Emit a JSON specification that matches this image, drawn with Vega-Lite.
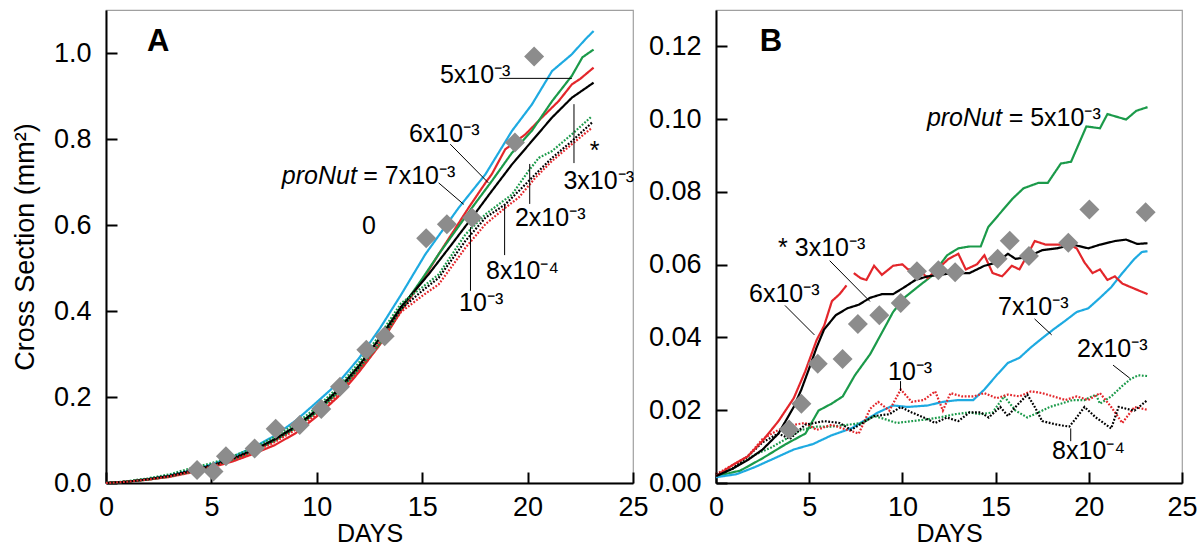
{
"$schema":"https://vega.github.io/schema/vega-lite/v6.json",
"autosize":{"type":"pad"},
"padding":{"left":10,"top":9,"right":7,"bottom":6},
"background":"white",
"config":{
 "font":"Liberation Sans",
 "view":{"stroke":"#a0a0a0","strokeWidth":1.2},
 "axis":{"domainColor":"#000","domainWidth":2,"tickColor":"#000","tickWidth":2,"tickSize":-11,"labelFontSize":27,"labelColor":"#000","labelFont":"Liberation Sans","titleFont":"Liberation Sans","titleFontSize":27,"titleFontWeight":"normal","titleColor":"#000","grid":false,"labelFlush":false,"labelOverlap":false,"labelBound":false},
 "axisX":{"labelPadding":22,"titlePadding":1,"titleFontSize":25},
 "axisY":{"labelPadding":26,"titlePadding":14},
 "text":{"font":"Liberation Sans"}
},
"datasets":{
 "a_lines":[
  {"s":"7e-3","k":"cyan","st":"solid","d":0,"v":0},{"s":"7e-3","k":"cyan","st":"solid","d":1,"v":0.003},{"s":"7e-3","k":"cyan","st":"solid","d":2,"v":0.009},{"s":"7e-3","k":"cyan","st":"solid","d":3,"v":0.017},{"s":"7e-3","k":"cyan","st":"solid","d":4,"v":0.029},{"s":"7e-3","k":"cyan","st":"solid","d":5,"v":0.043},{"s":"7e-3","k":"cyan","st":"solid","d":6,"v":0.061},{"s":"7e-3","k":"cyan","st":"solid","d":7,"v":0.083},{"s":"7e-3","k":"cyan","st":"solid","d":8,"v":0.11},{"s":"7e-3","k":"cyan","st":"solid","d":9,"v":0.145},{"s":"7e-3","k":"cyan","st":"solid","d":10,"v":0.188},{"s":"7e-3","k":"cyan","st":"solid","d":11,"v":0.232},{"s":"7e-3","k":"cyan","st":"solid","d":12,"v":0.29},{"s":"7e-3","k":"cyan","st":"solid","d":13,"v":0.36},{"s":"7e-3","k":"cyan","st":"solid","d":14,"v":0.438},{"s":"7e-3","k":"cyan","st":"solid","d":15.15,"v":0.532},{"s":"7e-3","k":"cyan","st":"solid","d":16.73,"v":0.64},{"s":"7e-3","k":"cyan","st":"solid","d":18,"v":0.718},{"s":"7e-3","k":"cyan","st":"solid","d":19.26,"v":0.819},{"s":"7e-3","k":"cyan","st":"solid","d":20.2,"v":0.88},{"s":"7e-3","k":"cyan","st":"solid","d":21.16,"v":0.958},{"s":"7e-3","k":"cyan","st":"solid","d":22.1,"v":0.997},{"s":"7e-3","k":"cyan","st":"solid","d":22.74,"v":1.032},{"s":"7e-3","k":"cyan","st":"solid","d":23.13,"v":1.051},
  {"s":"6e-3","k":"red","st":"solid","d":0,"v":0},{"s":"6e-3","k":"red","st":"solid","d":1,"v":0.003},{"s":"6e-3","k":"red","st":"solid","d":2,"v":0.008},{"s":"6e-3","k":"red","st":"solid","d":3,"v":0.014},{"s":"6e-3","k":"red","st":"solid","d":4,"v":0.024},{"s":"6e-3","k":"red","st":"solid","d":5,"v":0.036},{"s":"6e-3","k":"red","st":"solid","d":6,"v":0.05},{"s":"6e-3","k":"red","st":"solid","d":7,"v":0.068},{"s":"6e-3","k":"red","st":"solid","d":8,"v":0.088},{"s":"6e-3","k":"red","st":"solid","d":9,"v":0.116},{"s":"6e-3","k":"red","st":"solid","d":10,"v":0.155},{"s":"6e-3","k":"red","st":"solid","d":11,"v":0.2},{"s":"6e-3","k":"red","st":"solid","d":12,"v":0.258},{"s":"6e-3","k":"red","st":"solid","d":13,"v":0.322},{"s":"6e-3","k":"red","st":"solid","d":14,"v":0.4},{"s":"6e-3","k":"red","st":"solid","d":15,"v":0.47},{"s":"6e-3","k":"red","st":"solid","d":15.78,"v":0.532},{"s":"6e-3","k":"red","st":"solid","d":17.2,"v":0.64},{"s":"6e-3","k":"red","st":"solid","d":18,"v":0.698},{"s":"6e-3","k":"red","st":"solid","d":18.3,"v":0.718},{"s":"6e-3","k":"red","st":"solid","d":18.94,"v":0.776},{"s":"6e-3","k":"red","st":"solid","d":19.9,"v":0.811},{"s":"6e-3","k":"red","st":"solid","d":20.68,"v":0.85},{"s":"6e-3","k":"red","st":"solid","d":21.47,"v":0.888},{"s":"6e-3","k":"red","st":"solid","d":22.1,"v":0.927},{"s":"6e-3","k":"red","st":"solid","d":22.5,"v":0.94},{"s":"6e-3","k":"red","st":"solid","d":23.13,"v":0.966},
  {"s":"5e-3","k":"green","st":"solid","d":0,"v":0},{"s":"5e-3","k":"green","st":"solid","d":1,"v":0.003},{"s":"5e-3","k":"green","st":"solid","d":2,"v":0.008},{"s":"5e-3","k":"green","st":"solid","d":3,"v":0.015},{"s":"5e-3","k":"green","st":"solid","d":4,"v":0.026},{"s":"5e-3","k":"green","st":"solid","d":5,"v":0.039},{"s":"5e-3","k":"green","st":"solid","d":6,"v":0.054},{"s":"5e-3","k":"green","st":"solid","d":7,"v":0.074},{"s":"5e-3","k":"green","st":"solid","d":8,"v":0.098},{"s":"5e-3","k":"green","st":"solid","d":9,"v":0.128},{"s":"5e-3","k":"green","st":"solid","d":10,"v":0.165},{"s":"5e-3","k":"green","st":"solid","d":11,"v":0.21},{"s":"5e-3","k":"green","st":"solid","d":12,"v":0.265},{"s":"5e-3","k":"green","st":"solid","d":13,"v":0.325},{"s":"5e-3","k":"green","st":"solid","d":14,"v":0.405},{"s":"5e-3","k":"green","st":"solid","d":15,"v":0.475},{"s":"5e-3","k":"green","st":"solid","d":15.78,"v":0.532},{"s":"5e-3","k":"green","st":"solid","d":17.36,"v":0.64},{"s":"5e-3","k":"green","st":"solid","d":18.3,"v":0.702},{"s":"5e-3","k":"green","st":"solid","d":19.26,"v":0.768},{"s":"5e-3","k":"green","st":"solid","d":20.2,"v":0.819},{"s":"5e-3","k":"green","st":"solid","d":21.16,"v":0.888},{"s":"5e-3","k":"green","st":"solid","d":22.1,"v":0.947},{"s":"5e-3","k":"green","st":"solid","d":22.6,"v":0.99},{"s":"5e-3","k":"green","st":"solid","d":23.13,"v":1.008},
  {"s":"3e-3","k":"black","st":"solid","d":0,"v":0},{"s":"3e-3","k":"black","st":"solid","d":1,"v":0.003},{"s":"3e-3","k":"black","st":"solid","d":2,"v":0.009},{"s":"3e-3","k":"black","st":"solid","d":3,"v":0.016},{"s":"3e-3","k":"black","st":"solid","d":4,"v":0.027},{"s":"3e-3","k":"black","st":"solid","d":5,"v":0.04},{"s":"3e-3","k":"black","st":"solid","d":6,"v":0.056},{"s":"3e-3","k":"black","st":"solid","d":7,"v":0.077},{"s":"3e-3","k":"black","st":"solid","d":8,"v":0.102},{"s":"3e-3","k":"black","st":"solid","d":9,"v":0.132},{"s":"3e-3","k":"black","st":"solid","d":10,"v":0.17},{"s":"3e-3","k":"black","st":"solid","d":11,"v":0.217},{"s":"3e-3","k":"black","st":"solid","d":12,"v":0.273},{"s":"3e-3","k":"black","st":"solid","d":13,"v":0.338},{"s":"3e-3","k":"black","st":"solid","d":14,"v":0.41},{"s":"3e-3","k":"black","st":"solid","d":15.3,"v":0.485},{"s":"3e-3","k":"black","st":"solid","d":16.4,"v":0.555},{"s":"3e-3","k":"black","st":"solid","d":17.36,"v":0.617},{"s":"3e-3","k":"black","st":"solid","d":18.3,"v":0.679},{"s":"3e-3","k":"black","st":"solid","d":19.26,"v":0.741},{"s":"3e-3","k":"black","st":"solid","d":20.2,"v":0.795},{"s":"3e-3","k":"black","st":"solid","d":21.16,"v":0.85},{"s":"3e-3","k":"black","st":"solid","d":22.1,"v":0.896},{"s":"3e-3","k":"black","st":"solid","d":23.13,"v":0.931},
  {"s":"2e-3","k":"green","st":"dotted","d":0,"v":0},{"s":"2e-3","k":"green","st":"dotted","d":1,"v":0.004},{"s":"2e-3","k":"green","st":"dotted","d":2,"v":0.011},{"s":"2e-3","k":"green","st":"dotted","d":3,"v":0.02},{"s":"2e-3","k":"green","st":"dotted","d":4,"v":0.034},{"s":"2e-3","k":"green","st":"dotted","d":5,"v":0.046},{"s":"2e-3","k":"green","st":"dotted","d":6,"v":0.062},{"s":"2e-3","k":"green","st":"dotted","d":7,"v":0.082},{"s":"2e-3","k":"green","st":"dotted","d":8,"v":0.107},{"s":"2e-3","k":"green","st":"dotted","d":9,"v":0.138},{"s":"2e-3","k":"green","st":"dotted","d":10,"v":0.176},{"s":"2e-3","k":"green","st":"dotted","d":11,"v":0.222},{"s":"2e-3","k":"green","st":"dotted","d":12,"v":0.28},{"s":"2e-3","k":"green","st":"dotted","d":13,"v":0.345},{"s":"2e-3","k":"green","st":"dotted","d":14,"v":0.418},{"s":"2e-3","k":"green","st":"dotted","d":15,"v":0.455},{"s":"2e-3","k":"green","st":"dotted","d":15.78,"v":0.485},{"s":"2e-3","k":"green","st":"dotted","d":17.05,"v":0.578},{"s":"2e-3","k":"green","st":"dotted","d":18,"v":0.625},{"s":"2e-3","k":"green","st":"dotted","d":18.63,"v":0.648},{"s":"2e-3","k":"green","st":"dotted","d":19.26,"v":0.671},{"s":"2e-3","k":"green","st":"dotted","d":20.05,"v":0.726},{"s":"2e-3","k":"green","st":"dotted","d":20.53,"v":0.756},{"s":"2e-3","k":"green","st":"dotted","d":21.16,"v":0.772},{"s":"2e-3","k":"green","st":"dotted","d":22.1,"v":0.811},{"s":"2e-3","k":"green","st":"dotted","d":23.05,"v":0.853},
  {"s":"8e-4","k":"black","st":"dotted","d":0,"v":0},{"s":"8e-4","k":"black","st":"dotted","d":1,"v":0.003},{"s":"8e-4","k":"black","st":"dotted","d":2,"v":0.009},{"s":"8e-4","k":"black","st":"dotted","d":3,"v":0.017},{"s":"8e-4","k":"black","st":"dotted","d":4,"v":0.029},{"s":"8e-4","k":"black","st":"dotted","d":5,"v":0.041},{"s":"8e-4","k":"black","st":"dotted","d":6,"v":0.057},{"s":"8e-4","k":"black","st":"dotted","d":7,"v":0.077},{"s":"8e-4","k":"black","st":"dotted","d":8,"v":0.1},{"s":"8e-4","k":"black","st":"dotted","d":9,"v":0.13},{"s":"8e-4","k":"black","st":"dotted","d":10,"v":0.168},{"s":"8e-4","k":"black","st":"dotted","d":11,"v":0.214},{"s":"8e-4","k":"black","st":"dotted","d":12,"v":0.27},{"s":"8e-4","k":"black","st":"dotted","d":13,"v":0.335},{"s":"8e-4","k":"black","st":"dotted","d":14,"v":0.405},{"s":"8e-4","k":"black","st":"dotted","d":15,"v":0.447},{"s":"8e-4","k":"black","st":"dotted","d":15.78,"v":0.477},{"s":"8e-4","k":"black","st":"dotted","d":17.05,"v":0.563},{"s":"8e-4","k":"black","st":"dotted","d":18,"v":0.617},{"s":"8e-4","k":"black","st":"dotted","d":18.94,"v":0.648},{"s":"8e-4","k":"black","st":"dotted","d":19.58,"v":0.679},{"s":"8e-4","k":"black","st":"dotted","d":20.37,"v":0.718},{"s":"8e-4","k":"black","st":"dotted","d":21.16,"v":0.756},{"s":"8e-4","k":"black","st":"dotted","d":22.1,"v":0.795},{"s":"8e-4","k":"black","st":"dotted","d":23.05,"v":0.838},
  {"s":"1e-3","k":"red","st":"dotted","d":0,"v":0},{"s":"1e-3","k":"red","st":"dotted","d":1,"v":0.003},{"s":"1e-3","k":"red","st":"dotted","d":2,"v":0.008},{"s":"1e-3","k":"red","st":"dotted","d":3,"v":0.015},{"s":"1e-3","k":"red","st":"dotted","d":4,"v":0.026},{"s":"1e-3","k":"red","st":"dotted","d":5,"v":0.038},{"s":"1e-3","k":"red","st":"dotted","d":6,"v":0.053},{"s":"1e-3","k":"red","st":"dotted","d":7,"v":0.072},{"s":"1e-3","k":"red","st":"dotted","d":8,"v":0.095},{"s":"1e-3","k":"red","st":"dotted","d":9,"v":0.124},{"s":"1e-3","k":"red","st":"dotted","d":10,"v":0.16},{"s":"1e-3","k":"red","st":"dotted","d":11,"v":0.205},{"s":"1e-3","k":"red","st":"dotted","d":12,"v":0.262},{"s":"1e-3","k":"red","st":"dotted","d":13,"v":0.328},{"s":"1e-3","k":"red","st":"dotted","d":14,"v":0.398},{"s":"1e-3","k":"red","st":"dotted","d":15,"v":0.435},{"s":"1e-3","k":"red","st":"dotted","d":15.78,"v":0.462},{"s":"1e-3","k":"red","st":"dotted","d":17.05,"v":0.547},{"s":"1e-3","k":"red","st":"dotted","d":18,"v":0.602},{"s":"1e-3","k":"red","st":"dotted","d":18.94,"v":0.64},{"s":"1e-3","k":"red","st":"dotted","d":19.58,"v":0.664},{"s":"1e-3","k":"red","st":"dotted","d":20.37,"v":0.71},{"s":"1e-3","k":"red","st":"dotted","d":21.16,"v":0.749},{"s":"1e-3","k":"red","st":"dotted","d":22.1,"v":0.788},{"s":"1e-3","k":"red","st":"dotted","d":23.05,"v":0.826}
 ],
 "a_pts":[
  {"d":4.32,"v":0.03},{"d":5.1,"v":0.027},{"d":5.69,"v":0.062},{"d":7.05,"v":0.08},{"d":8.05,"v":0.126},{"d":9.19,"v":0.135},{"d":10.21,"v":0.172},{"d":11.1,"v":0.224},{"d":12.35,"v":0.31},{"d":13.22,"v":0.341},{"d":15.19,"v":0.569},{"d":16.17,"v":0.602},{"d":17.37,"v":0.617},{"d":19.4,"v":0.792},{"d":20.31,"v":0.992}
 ],
 "a_lead":[
  {"d":18.66,"v":0.941,"d2":22.1,"v2":0.941},
  {"d":22.2,"v":0.881,"d2":22.2,"v2":0.744},
  {"d":16.33,"v":0.788,"d2":18.14,"v2":0.698},
  {"d":15.78,"v":0.698,"d2":16.97,"v2":0.648},
  {"d":20.1,"v":0.742,"d2":20.1,"v2":0.649},
  {"d":18.91,"v":0.649,"d2":18.91,"v2":0.53},
  {"d":17.29,"v":0.595,"d2":17.29,"v2":0.447}
 ],
 "a_txt":[
  {"d":15.84,"v":0.949,"t":"5x10⁻³"},
  {"d":14.37,"v":0.812,"t":"6x10⁻³"},
  {"d":12.2,"v":0.714,"t":"= 7x10⁻³"},
  {"d":12.14,"v":0.598,"t":"0"},
  {"d":21.7,"v":0.702,"t":"3x10⁻³"},
  {"d":22.95,"v":0.772,"t":"*"},
  {"d":19.4,"v":0.616,"t":"2x10⁻³"},
  {"d":18.03,"v":0.493,"t":"8x10⁻⁴"},
  {"d":16.75,"v":0.419,"t":"10⁻³"}
 ],
 "a_ital":[{"d":11.9,"v":0.714,"t":"proNut"}],
 "a_lab":[{"d":2.47,"v":1.026,"t":"A"}],
 "b_lines":[
  {"s":"5e-3","k":"green","st":"solid","d":0,"v":0.0019},{"s":"5e-3","k":"green","st":"solid","d":1.3,"v":0.0034},{"s":"5e-3","k":"green","st":"solid","d":2.5,"v":0.0068},{"s":"5e-3","k":"green","st":"solid","d":3.75,"v":0.0107},{"s":"5e-3","k":"green","st":"solid","d":4.8,"v":0.0136},{"s":"5e-3","k":"green","st":"solid","d":5.5,"v":0.0199},{"s":"5e-3","k":"green","st":"solid","d":6.2,"v":0.0218},{"s":"5e-3","k":"green","st":"solid","d":6.8,"v":0.0238},{"s":"5e-3","k":"green","st":"solid","d":7.45,"v":0.0296},{"s":"5e-3","k":"green","st":"solid","d":8.27,"v":0.0354},{"s":"5e-3","k":"green","st":"solid","d":9.1,"v":0.0432},{"s":"5e-3","k":"green","st":"solid","d":9.5,"v":0.047},{"s":"5e-3","k":"green","st":"solid","d":10.1,"v":0.0509},{"s":"5e-3","k":"green","st":"solid","d":10.8,"v":0.0538},{"s":"5e-3","k":"green","st":"solid","d":11.55,"v":0.0568},{"s":"5e-3","k":"green","st":"solid","d":12.4,"v":0.0626},{"s":"5e-3","k":"green","st":"solid","d":13,"v":0.0645},{"s":"5e-3","k":"green","st":"solid","d":13.6,"v":0.065},{"s":"5e-3","k":"green","st":"solid","d":14.2,"v":0.065},{"s":"5e-3","k":"green","st":"solid","d":14.6,"v":0.0703},{"s":"5e-3","k":"green","st":"solid","d":15.25,"v":0.0742},{"s":"5e-3","k":"green","st":"solid","d":15.9,"v":0.0781},{"s":"5e-3","k":"green","st":"solid","d":16.5,"v":0.081},{"s":"5e-3","k":"green","st":"solid","d":17.3,"v":0.0825},{"s":"5e-3","k":"green","st":"solid","d":17.8,"v":0.0825},{"s":"5e-3","k":"green","st":"solid","d":18.5,"v":0.0878},{"s":"5e-3","k":"green","st":"solid","d":19.05,"v":0.0883},{"s":"5e-3","k":"green","st":"solid","d":19.87,"v":0.098},{"s":"5e-3","k":"green","st":"solid","d":20.6,"v":0.0975},{"s":"5e-3","k":"green","st":"solid","d":21,"v":0.1014},{"s":"5e-3","k":"green","st":"solid","d":22,"v":0.0999},{"s":"5e-3","k":"green","st":"solid","d":22.55,"v":0.1023},{"s":"5e-3","k":"green","st":"solid","d":23.15,"v":0.1033},
  {"s":"7e-3","k":"cyan","st":"solid","d":0,"v":0.0016},{"s":"7e-3","k":"cyan","st":"solid","d":1.09,"v":0.0024},{"s":"7e-3","k":"cyan","st":"solid","d":2.1,"v":0.0044},{"s":"7e-3","k":"cyan","st":"solid","d":3.14,"v":0.0068},{"s":"7e-3","k":"cyan","st":"solid","d":4.17,"v":0.0092},{"s":"7e-3","k":"cyan","st":"solid","d":5.2,"v":0.0107},{"s":"7e-3","k":"cyan","st":"solid","d":6.2,"v":0.0131},{"s":"7e-3","k":"cyan","st":"solid","d":7.25,"v":0.015},{"s":"7e-3","k":"cyan","st":"solid","d":8.07,"v":0.0175},{"s":"7e-3","k":"cyan","st":"solid","d":8.7,"v":0.0194},{"s":"7e-3","k":"cyan","st":"solid","d":9.5,"v":0.0213},{"s":"7e-3","k":"cyan","st":"solid","d":10.3,"v":0.0209},{"s":"7e-3","k":"cyan","st":"solid","d":11.35,"v":0.0213},{"s":"7e-3","k":"cyan","st":"solid","d":12.17,"v":0.0223},{"s":"7e-3","k":"cyan","st":"solid","d":13,"v":0.0228},{"s":"7e-3","k":"cyan","st":"solid","d":13.8,"v":0.0228},{"s":"7e-3","k":"cyan","st":"solid","d":14.4,"v":0.0257},{"s":"7e-3","k":"cyan","st":"solid","d":15.05,"v":0.0296},{"s":"7e-3","k":"cyan","st":"solid","d":15.66,"v":0.033},{"s":"7e-3","k":"cyan","st":"solid","d":16.28,"v":0.0344},{"s":"7e-3","k":"cyan","st":"solid","d":16.9,"v":0.0373},{"s":"7e-3","k":"cyan","st":"solid","d":17.5,"v":0.0398},{"s":"7e-3","k":"cyan","st":"solid","d":18.1,"v":0.0422},{"s":"7e-3","k":"cyan","st":"solid","d":18.74,"v":0.0446},{"s":"7e-3","k":"cyan","st":"solid","d":19.35,"v":0.047},{"s":"7e-3","k":"cyan","st":"solid","d":19.97,"v":0.048},{"s":"7e-3","k":"cyan","st":"solid","d":20.6,"v":0.0509},{"s":"7e-3","k":"cyan","st":"solid","d":21.2,"v":0.0538},{"s":"7e-3","k":"cyan","st":"solid","d":21.8,"v":0.0577},{"s":"7e-3","k":"cyan","st":"solid","d":22.45,"v":0.0616},{"s":"7e-3","k":"cyan","st":"solid","d":22.85,"v":0.0635},{"s":"7e-3","k":"cyan","st":"solid","d":23.15,"v":0.0637},
  {"s":"2e-3","k":"green","st":"dotted","d":0,"v":0.0019},{"s":"2e-3","k":"green","st":"dotted","d":0.88,"v":0.0039},{"s":"2e-3","k":"green","st":"dotted","d":2.1,"v":0.0078},{"s":"2e-3","k":"green","st":"dotted","d":2.94,"v":0.0097},{"s":"2e-3","k":"green","st":"dotted","d":3.75,"v":0.0121},{"s":"2e-3","k":"green","st":"dotted","d":4.58,"v":0.0146},{"s":"2e-3","k":"green","st":"dotted","d":5.4,"v":0.0155},{"s":"2e-3","k":"green","st":"dotted","d":6.2,"v":0.0155},{"s":"2e-3","k":"green","st":"dotted","d":7.04,"v":0.016},{"s":"2e-3","k":"green","st":"dotted","d":7.86,"v":0.0165},{"s":"2e-3","k":"green","st":"dotted","d":8.48,"v":0.0184},{"s":"2e-3","k":"green","st":"dotted","d":9.1,"v":0.0175},{"s":"2e-3","k":"green","st":"dotted","d":9.7,"v":0.0165},{"s":"2e-3","k":"green","st":"dotted","d":10.5,"v":0.017},{"s":"2e-3","k":"green","st":"dotted","d":11.35,"v":0.0175},{"s":"2e-3","k":"green","st":"dotted","d":11.97,"v":0.018},{"s":"2e-3","k":"green","st":"dotted","d":12.8,"v":0.0189},{"s":"2e-3","k":"green","st":"dotted","d":13.6,"v":0.0194},{"s":"2e-3","k":"green","st":"dotted","d":14.2,"v":0.0189},{"s":"2e-3","k":"green","st":"dotted","d":14.84,"v":0.0194},{"s":"2e-3","k":"green","st":"dotted","d":15.46,"v":0.0238},{"s":"2e-3","k":"green","st":"dotted","d":16.07,"v":0.0199},{"s":"2e-3","k":"green","st":"dotted","d":16.7,"v":0.018},{"s":"2e-3","k":"green","st":"dotted","d":17.3,"v":0.0194},{"s":"2e-3","k":"green","st":"dotted","d":17.9,"v":0.0209},{"s":"2e-3","k":"green","st":"dotted","d":18.5,"v":0.0218},{"s":"2e-3","k":"green","st":"dotted","d":19.15,"v":0.0228},{"s":"2e-3","k":"green","st":"dotted","d":19.77,"v":0.0228},{"s":"2e-3","k":"green","st":"dotted","d":20.38,"v":0.0243},{"s":"2e-3","k":"green","st":"dotted","d":20.6,"v":0.0218},{"s":"2e-3","k":"green","st":"dotted","d":21.2,"v":0.0238},{"s":"2e-3","k":"green","st":"dotted","d":21.8,"v":0.0267},{"s":"2e-3","k":"green","st":"dotted","d":22.25,"v":0.0286},{"s":"2e-3","k":"green","st":"dotted","d":22.65,"v":0.0296},{"s":"2e-3","k":"green","st":"dotted","d":23.15,"v":0.0294},
  {"s":"1e-3","k":"red","st":"dotted","d":0,"v":0.0024},{"s":"1e-3","k":"red","st":"dotted","d":0.88,"v":0.0049},{"s":"1e-3","k":"red","st":"dotted","d":1.7,"v":0.0073},{"s":"1e-3","k":"red","st":"dotted","d":2.5,"v":0.0121},{"s":"1e-3","k":"red","st":"dotted","d":3.35,"v":0.0146},{"s":"1e-3","k":"red","st":"dotted","d":4.17,"v":0.016},{"s":"1e-3","k":"red","st":"dotted","d":4.78,"v":0.0165},{"s":"1e-3","k":"red","st":"dotted","d":5.4,"v":0.0146},{"s":"1e-3","k":"red","st":"dotted","d":6.2,"v":0.016},{"s":"1e-3","k":"red","st":"dotted","d":7.04,"v":0.0146},{"s":"1e-3","k":"red","st":"dotted","d":7.66,"v":0.0136},{"s":"1e-3","k":"red","st":"dotted","d":8.27,"v":0.0204},{"s":"1e-3","k":"red","st":"dotted","d":8.7,"v":0.0223},{"s":"1e-3","k":"red","st":"dotted","d":9.3,"v":0.0199},{"s":"1e-3","k":"red","st":"dotted","d":9.91,"v":0.0257},{"s":"1e-3","k":"red","st":"dotted","d":10.5,"v":0.0223},{"s":"1e-3","k":"red","st":"dotted","d":11.15,"v":0.0228},{"s":"1e-3","k":"red","st":"dotted","d":11.76,"v":0.0252},{"s":"1e-3","k":"red","st":"dotted","d":12.17,"v":0.0199},{"s":"1e-3","k":"red","st":"dotted","d":12.58,"v":0.0247},{"s":"1e-3","k":"red","st":"dotted","d":13.2,"v":0.0238},{"s":"1e-3","k":"red","st":"dotted","d":13.8,"v":0.0238},{"s":"1e-3","k":"red","st":"dotted","d":14.4,"v":0.0247},{"s":"1e-3","k":"red","st":"dotted","d":15.05,"v":0.0233},{"s":"1e-3","k":"red","st":"dotted","d":15.66,"v":0.0243},{"s":"1e-3","k":"red","st":"dotted","d":16.28,"v":0.0238},{"s":"1e-3","k":"red","st":"dotted","d":16.9,"v":0.0252},{"s":"1e-3","k":"red","st":"dotted","d":17.5,"v":0.0247},{"s":"1e-3","k":"red","st":"dotted","d":18.1,"v":0.0238},{"s":"1e-3","k":"red","st":"dotted","d":18.74,"v":0.0228},{"s":"1e-3","k":"red","st":"dotted","d":19.35,"v":0.0238},{"s":"1e-3","k":"red","st":"dotted","d":19.97,"v":0.0228},{"s":"1e-3","k":"red","st":"dotted","d":20.6,"v":0.0247},{"s":"1e-3","k":"red","st":"dotted","d":21.2,"v":0.0209},{"s":"1e-3","k":"red","st":"dotted","d":21.8,"v":0.0165},{"s":"1e-3","k":"red","st":"dotted","d":22.45,"v":0.0209},{"s":"1e-3","k":"red","st":"dotted","d":23.15,"v":0.0201},
  {"s":"8e-4","k":"black","st":"dotted","d":0,"v":0.0024},{"s":"8e-4","k":"black","st":"dotted","d":0.88,"v":0.0039},{"s":"8e-4","k":"black","st":"dotted","d":1.7,"v":0.0073},{"s":"8e-4","k":"black","st":"dotted","d":2.5,"v":0.0112},{"s":"8e-4","k":"black","st":"dotted","d":3.35,"v":0.0136},{"s":"8e-4","k":"black","st":"dotted","d":3.96,"v":0.0121},{"s":"8e-4","k":"black","st":"dotted","d":4.78,"v":0.016},{"s":"8e-4","k":"black","st":"dotted","d":5.8,"v":0.017},{"s":"8e-4","k":"black","st":"dotted","d":6.63,"v":0.0165},{"s":"8e-4","k":"black","st":"dotted","d":7.25,"v":0.0146},{"s":"8e-4","k":"black","st":"dotted","d":7.86,"v":0.0165},{"s":"8e-4","k":"black","st":"dotted","d":8.48,"v":0.0184},{"s":"8e-4","k":"black","st":"dotted","d":9.3,"v":0.0189},{"s":"8e-4","k":"black","st":"dotted","d":9.91,"v":0.0209},{"s":"8e-4","k":"black","st":"dotted","d":10.5,"v":0.0194},{"s":"8e-4","k":"black","st":"dotted","d":11.15,"v":0.018},{"s":"8e-4","k":"black","st":"dotted","d":11.76,"v":0.0165},{"s":"8e-4","k":"black","st":"dotted","d":12.38,"v":0.018},{"s":"8e-4","k":"black","st":"dotted","d":13,"v":0.017},{"s":"8e-4","k":"black","st":"dotted","d":13.6,"v":0.0194},{"s":"8e-4","k":"black","st":"dotted","d":14.2,"v":0.0194},{"s":"8e-4","k":"black","st":"dotted","d":14.63,"v":0.018},{"s":"8e-4","k":"black","st":"dotted","d":15.25,"v":0.0209},{"s":"8e-4","k":"black","st":"dotted","d":15.66,"v":0.0184},{"s":"8e-4","k":"black","st":"dotted","d":16.07,"v":0.0209},{"s":"8e-4","k":"black","st":"dotted","d":16.7,"v":0.0243},{"s":"8e-4","k":"black","st":"dotted","d":17.1,"v":0.0209},{"s":"8e-4","k":"black","st":"dotted","d":17.5,"v":0.017},{"s":"8e-4","k":"black","st":"dotted","d":18.33,"v":0.016},{"s":"8e-4","k":"black","st":"dotted","d":18.95,"v":0.0155},{"s":"8e-4","k":"black","st":"dotted","d":19.35,"v":0.018},{"s":"8e-4","k":"black","st":"dotted","d":19.77,"v":0.0209},{"s":"8e-4","k":"black","st":"dotted","d":20.38,"v":0.018},{"s":"8e-4","k":"black","st":"dotted","d":20.8,"v":0.0165},{"s":"8e-4","k":"black","st":"dotted","d":21.2,"v":0.015},{"s":"8e-4","k":"black","st":"dotted","d":21.6,"v":0.0209},{"s":"8e-4","k":"black","st":"dotted","d":22.45,"v":0.0199},{"s":"8e-4","k":"black","st":"dotted","d":23.15,"v":0.0228},
  {"s":"6e-3a","k":"red","st":"solid","d":0,"v":0.0019},{"s":"6e-3a","k":"red","st":"solid","d":0.88,"v":0.0049},{"s":"6e-3a","k":"red","st":"solid","d":1.7,"v":0.0073},{"s":"6e-3a","k":"red","st":"solid","d":2.5,"v":0.0116},{"s":"6e-3a","k":"red","st":"solid","d":3.35,"v":0.017},{"s":"6e-3a","k":"red","st":"solid","d":4.17,"v":0.0233},{"s":"6e-3a","k":"red","st":"solid","d":4.78,"v":0.0306},{"s":"6e-3a","k":"red","st":"solid","d":5.4,"v":0.0393},{"s":"6e-3a","k":"red","st":"solid","d":5.8,"v":0.0432},{"s":"6e-3a","k":"red","st":"solid","d":6.22,"v":0.05},{"s":"6e-3a","k":"red","st":"solid","d":6.63,"v":0.0519},{"s":"6e-3a","k":"red","st":"solid","d":7,"v":0.0543},
  {"s":"6e-3b","k":"red","st":"solid","d":7.39,"v":0.0577},{"s":"6e-3b","k":"red","st":"solid","d":7.76,"v":0.0563},{"s":"6e-3b","k":"red","st":"solid","d":8.07,"v":0.0558},{"s":"6e-3b","k":"red","st":"solid","d":8.48,"v":0.0597},{"s":"6e-3b","k":"red","st":"solid","d":8.9,"v":0.0572},{"s":"6e-3b","k":"red","st":"solid","d":9.5,"v":0.0597},{"s":"6e-3b","k":"red","st":"solid","d":10,"v":0.0601},{"s":"6e-3b","k":"red","st":"solid","d":10.3,"v":0.0587},{"s":"6e-3b","k":"red","st":"solid","d":10.9,"v":0.0587},{"s":"6e-3b","k":"red","st":"solid","d":11.35,"v":0.0563},{"s":"6e-3b","k":"red","st":"solid","d":11.97,"v":0.0592},{"s":"6e-3b","k":"red","st":"solid","d":12.48,"v":0.0616},{"s":"6e-3b","k":"red","st":"solid","d":13,"v":0.063},{"s":"6e-3b","k":"red","st":"solid","d":13.4,"v":0.0587},{"s":"6e-3b","k":"red","st":"solid","d":14,"v":0.0601},{"s":"6e-3b","k":"red","st":"solid","d":14.4,"v":0.0626},{"s":"6e-3b","k":"red","st":"solid","d":14.84,"v":0.0577},{"s":"6e-3b","k":"red","st":"solid","d":15.35,"v":0.0568},{"s":"6e-3b","k":"red","st":"solid","d":15.87,"v":0.0597},{"s":"6e-3b","k":"red","st":"solid","d":16.28,"v":0.0587},{"s":"6e-3b","k":"red","st":"solid","d":16.7,"v":0.0626},{"s":"6e-3b","k":"red","st":"solid","d":17.1,"v":0.0665},{"s":"6e-3b","k":"red","st":"solid","d":17.7,"v":0.0655},{"s":"6e-3b","k":"red","st":"solid","d":18.3,"v":0.0655},{"s":"6e-3b","k":"red","st":"solid","d":18.95,"v":0.0655},{"s":"6e-3b","k":"red","st":"solid","d":19.35,"v":0.0645},{"s":"6e-3b","k":"red","st":"solid","d":19.77,"v":0.0606},{"s":"6e-3b","k":"red","st":"solid","d":20.2,"v":0.0577},{"s":"6e-3b","k":"red","st":"solid","d":20.6,"v":0.0587},{"s":"6e-3b","k":"red","st":"solid","d":21,"v":0.0558},{"s":"6e-3b","k":"red","st":"solid","d":21.4,"v":0.0568},{"s":"6e-3b","k":"red","st":"solid","d":21.8,"v":0.0548},{"s":"6e-3b","k":"red","st":"solid","d":22.45,"v":0.0534},{"s":"6e-3b","k":"red","st":"solid","d":23.15,"v":0.0519},
  {"s":"3e-3","k":"black","st":"solid","d":0,"v":0.0019},{"s":"3e-3","k":"black","st":"solid","d":0.88,"v":0.0039},{"s":"3e-3","k":"black","st":"solid","d":1.7,"v":0.0063},{"s":"3e-3","k":"black","st":"solid","d":2.5,"v":0.0092},{"s":"3e-3","k":"black","st":"solid","d":3.35,"v":0.0136},{"s":"3e-3","k":"black","st":"solid","d":4.17,"v":0.0209},{"s":"3e-3","k":"black","st":"solid","d":4.58,"v":0.0257},{"s":"3e-3","k":"black","st":"solid","d":5,"v":0.0315},{"s":"3e-3","k":"black","st":"solid","d":5.4,"v":0.0373},{"s":"3e-3","k":"black","st":"solid","d":5.8,"v":0.0422},{"s":"3e-3","k":"black","st":"solid","d":6.42,"v":0.0461},{"s":"3e-3","k":"black","st":"solid","d":7.04,"v":0.048},{"s":"3e-3","k":"black","st":"solid","d":7.66,"v":0.049},{"s":"3e-3","k":"black","st":"solid","d":8.27,"v":0.0509},{"s":"3e-3","k":"black","st":"solid","d":8.9,"v":0.0519},{"s":"3e-3","k":"black","st":"solid","d":9.5,"v":0.0519},{"s":"3e-3","k":"black","st":"solid","d":10.1,"v":0.0538},{"s":"3e-3","k":"black","st":"solid","d":10.7,"v":0.0558},{"s":"3e-3","k":"black","st":"solid","d":11.35,"v":0.0568},{"s":"3e-3","k":"black","st":"solid","d":11.97,"v":0.0572},{"s":"3e-3","k":"black","st":"solid","d":12.8,"v":0.0577},{"s":"3e-3","k":"black","st":"solid","d":13.6,"v":0.0577},{"s":"3e-3","k":"black","st":"solid","d":14.4,"v":0.0597},{"s":"3e-3","k":"black","st":"solid","d":15.05,"v":0.0606},{"s":"3e-3","k":"black","st":"solid","d":15.66,"v":0.063},{"s":"3e-3","k":"black","st":"solid","d":16.07,"v":0.0616},{"s":"3e-3","k":"black","st":"solid","d":16.7,"v":0.0621},{"s":"3e-3","k":"black","st":"solid","d":17.5,"v":0.064},{"s":"3e-3","k":"black","st":"solid","d":18.3,"v":0.0645},{"s":"3e-3","k":"black","st":"solid","d":19.15,"v":0.0655},{"s":"3e-3","k":"black","st":"solid","d":19.97,"v":0.0645},{"s":"3e-3","k":"black","st":"solid","d":20.6,"v":0.0655},{"s":"3e-3","k":"black","st":"solid","d":21.4,"v":0.0665},{"s":"3e-3","k":"black","st":"solid","d":22,"v":0.0669},{"s":"3e-3","k":"black","st":"solid","d":22.6,"v":0.0657},{"s":"3e-3","k":"black","st":"solid","d":23.15,"v":0.0659}
 ],
 "b_pts":[
  {"d":3.92,"v":0.0147},{"d":4.58,"v":0.0218},{"d":5.46,"v":0.0328},{"d":6.79,"v":0.0341},{"d":7.61,"v":0.0437},{"d":8.76,"v":0.0461},{"d":9.91,"v":0.0495},{"d":10.78,"v":0.0582},{"d":11.93,"v":0.0585},{"d":12.83,"v":0.0579},{"d":15.11,"v":0.0616},{"d":15.76,"v":0.0666},{"d":16.79,"v":0.0624},{"d":18.9,"v":0.066},{"d":20.03,"v":0.0752},{"d":23.05,"v":0.0744}
 ],
 "b_lead":[
  {"d":6.1,"v":0.0611,"d2":8.26,"v2":0.0499},
  {"d":3.7,"v":0.0488,"d2":5.28,"v2":0.0407},
  {"d":17.09,"v":0.0451,"d2":18.01,"v2":0.0407},
  {"d":21.3,"v":0.0324,"d2":22.2,"v2":0.0288},
  {"d":9.9,"v":0.028,"d2":9.9,"v2":0.0253},
  {"d":19.03,"v":0.015,"d2":19.03,"v2":0.0115}
 ],
 "b_txt":[
  {"d":15.7,"v":0.1003,"t":"= 5x10⁻³"},
  {"d":3.33,"v":0.0646,"t":"* 3x10⁻³"},
  {"d":1.77,"v":0.052,"t":"6x10⁻³"},
  {"d":15.13,"v":0.0484,"t":"7x10⁻³"},
  {"d":19.37,"v":0.0368,"t":"2x10⁻³"},
  {"d":9.23,"v":0.0305,"t":"10⁻³"},
  {"d":18.03,"v":0.0088,"t":"8x10⁻⁴"}
 ],
 "b_ital":[{"d":15.34,"v":0.1003,"t":"proNut"}],
 "b_lab":[{"d":2.95,"v":0.1212,"t":"B"}]
},
"spacing":83,
"bounds":"flush",
"resolve":{"scale":{"x":"independent","y":"independent"}},
"hconcat":[
 {
  "width":527,"height":473,
  "encoding":{
   "x":{"field":"d","type":"quantitative","scale":{"domain":[0,25],"nice":false,"zero":false},"axis":{"values":[0,5,10,15,20,25],"title":"DAYS"}},
   "y":{"field":"v","type":"quantitative","scale":{"domain":[0,1.1],"nice":false},"axis":{"values":[0,0.2,0.4,0.6,0.8,1.0],"format":".1f","title":"Cross Section (mm²)"}}
  },
  "layer":[
   {"data":{"name":"a_lines"},"mark":{"type":"line","strokeWidth":2.2},
    "encoding":{"detail":{"field":"s"},
     "color":{"field":"k","type":"nominal","legend":null,"scale":{"domain":["cyan","red","green","black"],"range":["#1eaae1","#e3262b","#1b9a4a","#000000"]}},
     "strokeDash":{"field":"st","type":"nominal","legend":null,"scale":{"domain":["solid","dotted"],"range":[[1,0],[1.8,1.6]]}}}},
   {"data":{"name":"a_pts"},"mark":{"type":"point","shape":"diamond","filled":true,"size":400,"color":"#8c8c8c","opacity":1}},
   {"data":{"name":"a_lead"},"mark":{"type":"rule","color":"#000","strokeWidth":1},"encoding":{"x2":{"field":"d2"},"y2":{"field":"v2"}}},
   {"data":{"name":"a_txt"},"mark":{"type":"text","align":"left","baseline":"middle","fontSize":25,"color":"#000"},"encoding":{"text":{"field":"t"}}},
   {"data":{"name":"a_ital"},"mark":{"type":"text","align":"right","baseline":"middle","fontSize":25,"fontStyle":"italic","color":"#000"},"encoding":{"text":{"field":"t"}}},
   {"data":{"name":"a_lab"},"mark":{"type":"text","align":"center","baseline":"middle","fontSize":31,"fontWeight":"bold","color":"#000"},"encoding":{"text":{"field":"t"}}}
  ]
 },
 {
  "width":466,"height":473,
  "encoding":{
   "x":{"field":"d","type":"quantitative","scale":{"domain":[0,25],"nice":false,"zero":false},"axis":{"values":[0,5,10,15,20,25],"title":"DAYS"}},
   "y":{"field":"v","type":"quantitative","scale":{"domain":[0,0.13],"nice":false},"axis":{"values":[0,0.02,0.04,0.06,0.08,0.1,0.12],"format":".2f","title":null}}
  },
  "layer":[
   {"data":{"name":"b_lines"},"mark":{"type":"line","strokeWidth":2.2},
    "encoding":{"detail":{"field":"s"},
     "color":{"field":"k","type":"nominal","legend":null,"scale":{"domain":["cyan","red","green","black"],"range":["#1eaae1","#e3262b","#1b9a4a","#000000"]}},
     "strokeDash":{"field":"st","type":"nominal","legend":null,"scale":{"domain":["solid","dotted"],"range":[[1,0],[1.8,1.6]]}}}},
   {"data":{"name":"b_pts"},"mark":{"type":"point","shape":"diamond","filled":true,"size":400,"color":"#8c8c8c","opacity":1}},
   {"data":{"name":"b_lead"},"mark":{"type":"rule","color":"#000","strokeWidth":1},"encoding":{"x2":{"field":"d2"},"y2":{"field":"v2"}}},
   {"data":{"name":"b_txt"},"mark":{"type":"text","align":"left","baseline":"middle","fontSize":25,"color":"#000"},"encoding":{"text":{"field":"t"}}},
   {"data":{"name":"b_ital"},"mark":{"type":"text","align":"right","baseline":"middle","fontSize":25,"fontStyle":"italic","color":"#000"},"encoding":{"text":{"field":"t"}}},
   {"data":{"name":"b_lab"},"mark":{"type":"text","align":"center","baseline":"middle","fontSize":31,"fontWeight":"bold","color":"#000"},"encoding":{"text":{"field":"t"}}}
  ]
 }
]
}
